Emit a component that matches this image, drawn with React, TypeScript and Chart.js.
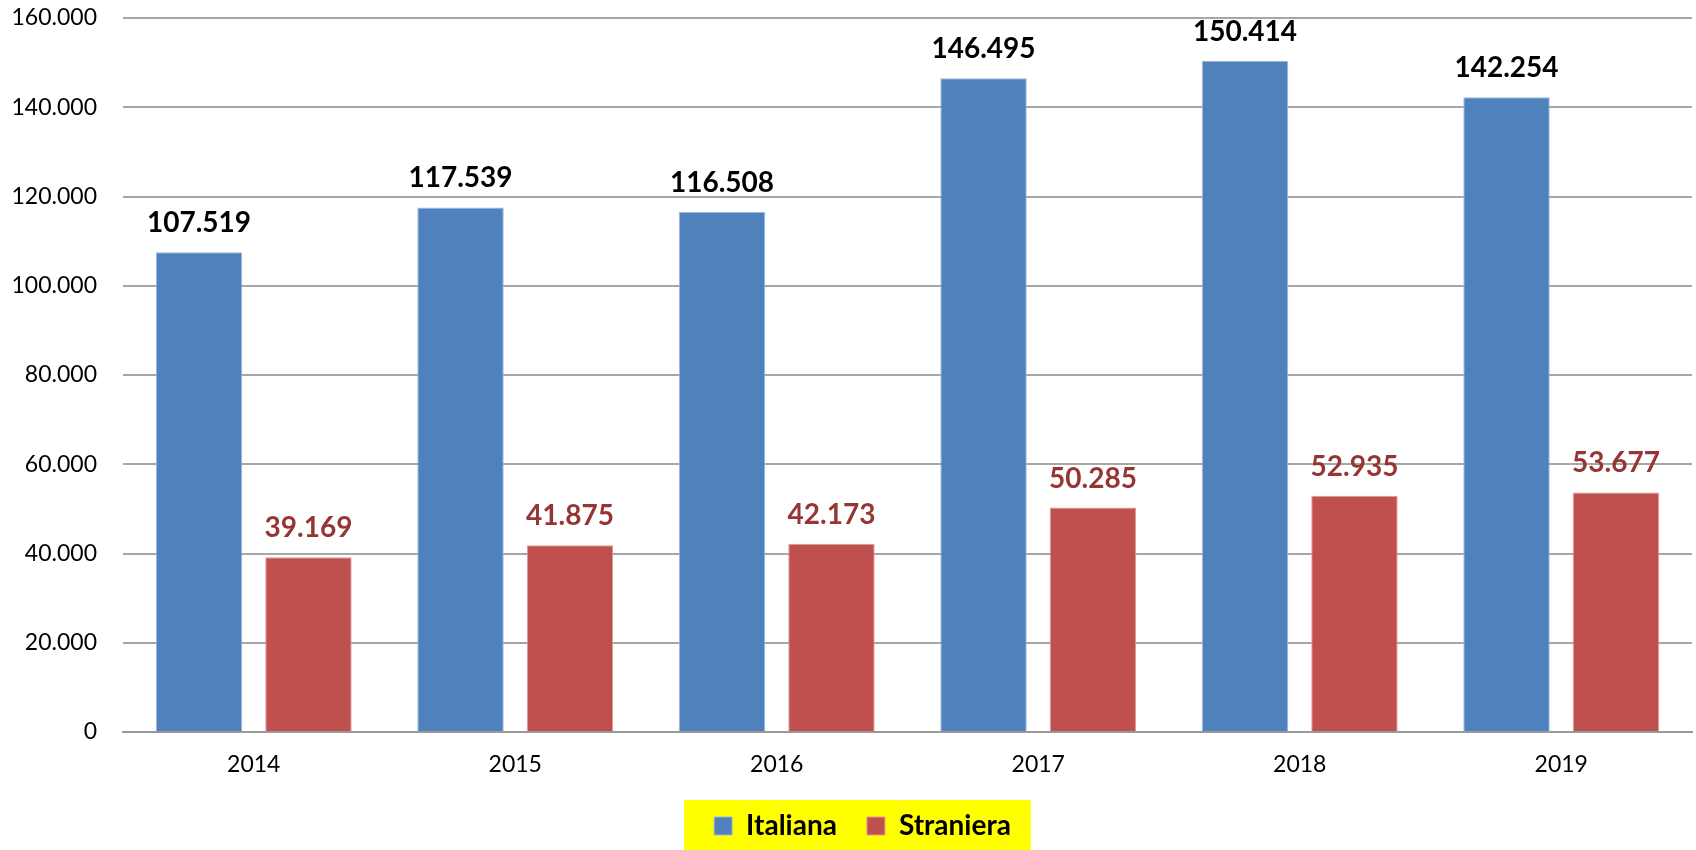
import React, { useEffect, useRef } from "react";
import { Chart, registerables } from "chart.js";

Chart.register(...registerables);

const categories = ["2014", "2015", "2016", "2017", "2018", "2019"];
const italiana = [107519, 117539, 116508, 146495, 150414, 142254];
const straniera = [39169, 41875, 42173, 50285, 52935, 53677];
const seriesNames = ["Italiana", "Straniera"];
const Y_MIN = 0;
const Y_MAX = 160000;
const Y_STEP = 20000;

const FONT = "Lato, 'Open Sans', 'Noto Sans', sans-serif";

function fmt(v: number): string {
  return Math.round(v)
    .toString()
    .replace(/\B(?=(\d{3})+(?!\d))/g, ".");
}

const labelColors = ["#000000", "#963634"];

const dataLabelPlugin = {
  id: "dataLabels",
  afterDatasetsDraw(chart: any) {
    const ctx = chart.ctx;
    ctx.save();
    ctx.font = `bold 28px ${FONT}`;
    ctx.textAlign = "center";
    ctx.textBaseline = "alphabetic";
    chart.data.datasets.forEach((ds: any, i: number) => {
      const meta = chart.getDatasetMeta(i);
      ctx.fillStyle = labelColors[i];
      meta.data.forEach((el: any, j: number) => {
        const { x, y } = el.getProps(["x", "y"], true);
        ctx.fillText(fmt(ds.data[j]), x, y - 20);
      });
    });
    ctx.restore();
  },
};

const legendShiftPlugin = {
  id: "legendShift",
  afterLayout(chart: any) {
    const lg = chart.legend;
    if (!lg) return;
    lg.left += 16.5;
    lg.right += 16.5;
  },
};

const legendBgPlugin = {
  id: "legendBg",
  beforeDraw(chart: any) {
    const lg = chart.legend;
    const hb = lg && lg.legendHitBoxes;
    if (!hb || !hb.length) return;
    const first = hb[0];
    const last = hb[hb.length - 1];
    const left = first.left - 30;
    const right = last.left + last.width + 20;
    const cy = first.top + first.height / 2;
    const ctx = chart.ctx;
    ctx.save();
    ctx.fillStyle = "#FFFF00";
    ctx.fillRect(left, cy - 26, right - left, 51.5);
    ctx.restore();
  },
};

export default function App() {
  const ref = useRef<HTMLCanvasElement | null>(null);

  useEffect(() => {
    if (!ref.current) return;
    Chart.defaults.font.family = FONT;
    const chart = new Chart(ref.current, {
      type: "bar",
      data: {
        labels: categories,
        datasets: [
          {
            label: seriesNames[0],
            data: italiana,
            backgroundColor: "#4F81BD",
            borderColor: "#9DB8DC",
            borderWidth: 1,
            categoryPercentage: 0.837,
            barPercentage: 0.79,
          },
          {
            label: seriesNames[1],
            data: straniera,
            backgroundColor: "#C0504D",
            borderColor: "#DC9C9A",
            borderWidth: 1,
            categoryPercentage: 0.837,
            barPercentage: 0.79,
          },
        ],
      },
      options: {
        responsive: false,
        animation: false,
        devicePixelRatio: 1,
        layout: { padding: { top: 18, right: 4, left: 0, bottom: 0 } },
        plugins: {
          tooltip: { enabled: false },
          legend: {
            position: "bottom",
            labels: {
              boxWidth: 18,
              boxHeight: 18,
              padding: 30,
              color: "#000000",
              font: { size: 28, weight: "bold", family: FONT },
            },
          },
        },
        scales: {
          x: {
            grid: { display: false, drawTicks: false },
            border: { display: true, color: "#999999", width: 2 },
            ticks: {
              color: "#000000",
              padding: 19,
              font: { size: 23, family: FONT },
            },
            afterFit(scale: any) {
              scale.height = 50;
            },
          },
          y: {
            min: Y_MIN,
            max: Y_MAX,
            grid: { color: "#A6A6A6", lineWidth: 2, drawTicks: false },
            border: { display: false },
            ticks: {
              stepSize: Y_STEP,
              color: "#000000",
              padding: 26,
              font: { size: 23, family: FONT },
              callback: (v: any) => fmt(Number(v)),
            },
            afterFit(scale: any) {
              scale.width = 123;
              scale.paddingTop = 14;
              scale.paddingBottom = 14;
            },
          },
        },
      },
      plugins: [dataLabelPlugin, legendShiftPlugin, legendBgPlugin],
    });
    return () => chart.destroy();
  }, []);

  return (
    <div style={{ position: "absolute", left: 0, top: 0, width: 1696, height: 850 }}>
      <canvas ref={ref} width={1696} height={850} style={{ display: "block" }} />
    </div>
  );
}
